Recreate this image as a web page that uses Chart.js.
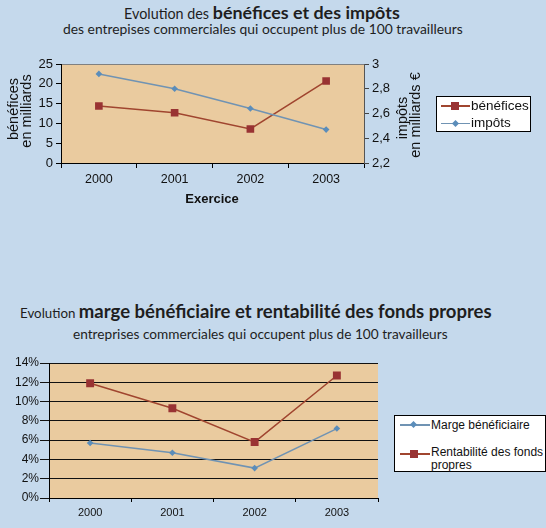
<!DOCTYPE html>
<html><head><meta charset="utf-8">
<script src="https://cdn.jsdelivr.net/npm/chart.js@4.4.0/dist/chart.umd.min.js"></script>
<style>
html,body{margin:0;padding:0;background:#c5d9ec;width:546px;height:528px;overflow:hidden;}
body{position:relative;font-family:"Liberation Sans",Arial,sans-serif;color:#111;}
.abs{position:absolute;white-space:nowrap;}
.ttl{font-family:"Liberation Sans Narrow",Lato,sans-serif;color:#1e1e1e;line-height:1.2;}
.rot{position:absolute;white-space:nowrap;transform:translate(-50%,-50%) rotate(-90deg);font-size:14.5px;line-height:14px;}
.ctr{position:absolute;white-space:nowrap;transform:translate(-50%,-50%);}
canvas{position:absolute;left:0;}
.leg{position:absolute;background:#fff;border:1px solid #000;box-sizing:border-box;}
.ln{position:absolute;height:1.5px;}
.sq{position:absolute;width:8px;height:8px;background:#993333;}
.dm{position:absolute;width:5px;height:5px;background:#5b8dba;transform:rotate(45deg);}
.lt{position:absolute;white-space:nowrap;}
</style></head>
<body>
<div id="t1" class="abs ttl" style="left:124px;top:2px;font-size:18px;"><span style="font-size:0.8em">Evolution des </span><b>bénéfices et des impôts</b></div>
<div id="s1" class="abs ttl" style="left:63px;top:21px;font-size:14px;">des entrepises commerciales qui occupent plus de 100 travailleurs</div>
<div id="t2" class="abs ttl" style="left:20px;top:300px;font-size:18px;"><span style="font-size:0.72em">Evolution </span><b>marge bénéficiaire et rentabilité des fonds propres</b></div>
<div id="s2" class="abs ttl" style="left:73px;top:326px;font-size:14px;">entreprises commerciales qui occupent plus de 100 travailleurs</div>

<canvas id="c1" width="546" height="180" style="top:40px;width:546px;height:180px;"></canvas>
<canvas id="c2" width="546" height="183" style="top:345px;width:546px;height:183px;"></canvas>

<div class="rot" style="left:13px;top:109px;">bénéfices</div>
<div class="rot" style="left:26px;top:111px;">en milliards</div>
<div class="rot" style="left:402px;top:118px;">impôts</div>
<div class="rot" style="left:415px;top:115px;">en milliards €</div>
<div class="ctr" style="left:212px;top:198px;font-weight:bold;font-size:13px;">Exercice</div>

<div class="leg" style="left:436px;top:96px;width:95px;height:36px;">
  <div class="ln" style="left:4px;top:8px;width:29px;background:#a0452f;"></div>
  <div class="sq" style="left:14px;top:5px;"></div>
  <div class="lt" style="left:34px;top:0px;font-size:13.5px;line-height:18px;">bénéfices</div>
  <div class="ln" style="left:4px;top:25.5px;width:29px;background:#7093b3;"></div>
  <div class="dm" style="left:16px;top:23.5px;"></div>
  <div class="lt" style="left:34px;top:17px;font-size:13.5px;line-height:18px;">impôts</div>
</div>

<div class="leg" style="left:394px;top:415px;width:152px;height:57px;">
  <div class="ln" style="left:5px;top:8px;width:30px;background:#7093b3;"></div>
  <div class="dm" style="left:16px;top:6px;"></div>
  <div class="lt" style="left:36px;top:1px;font-size:12px;line-height:16px;">Marge bénéficiaire</div>
  <div class="ln" style="left:5px;top:37px;width:30px;background:#a0452f;"></div>
  <div class="sq" style="left:15px;top:34px;"></div>
  <div class="lt" style="left:36px;top:30px;font-size:12px;line-height:12.5px;">Rentabilité des fonds<br>propres</div>
</div>

<script>
// ---- data ----
const years = ['2000', '2001', '2002', '2003'];
const benefices = [14.4, 12.7, 8.6, 20.7];
const impots = [2.92, 2.80, 2.64, 2.47];
const rightTickLabels = ['2,2', '2,4', '2,6', '2,8', '3'];
const marge = [5.7, 4.7, 3.1, 7.2];
const rentabilite = [11.9, 9.3, 5.8, 12.7];
const pctTickLabels = ['0%', '2%', '4%', '6%', '8%', '10%', '12%', '14%'];

// ---- styles ----
const RED = '#993333', RED_LINE = '#a0452f';
const BLUE = '#5b8dba', BLUE_LINE = '#7093b3';
const TAN = '#eacb9f';
const FONT = '"Liberation Sans", Arial, sans-serif';

// fit title widths
function fitW(id, target) {
  const el = document.getElementById(id);
  const w = el.getBoundingClientRect().width;
  const fs = parseFloat(getComputedStyle(el).fontSize);
  el.style.fontSize = (fs * target / w) + 'px';
}
fitW('t1', 276); fitW('s1', 400); fitW('t2', 472); fitW('s2', 375);

const plotBg = {
  id: 'plotBg',
  beforeDraw(chart, args, opts) {
    const {ctx, chartArea: a} = chart;
    ctx.save();
    ctx.fillStyle = opts.color;
    ctx.fillRect(a.left, a.top, a.right - a.left, a.bottom - a.top);
    if (opts.topLine) {
      ctx.strokeStyle = opts.topLine; ctx.lineWidth = 1;
      ctx.beginPath(); ctx.moveTo(a.left, Math.round(a.top) + 0.5); ctx.lineTo(a.right, Math.round(a.top) + 0.5); ctx.stroke();
    }
    ctx.restore();
  }
};

const common = {responsive: false, animation: false, events: [], maintainAspectRatio: false};

new Chart(document.getElementById('c1'), {
  type: 'line',
  plugins: [plotBg],
  data: {
    labels: years,
    datasets: [
      {label: 'impôts', data: impots, yAxisID: 'y2', borderColor: BLUE_LINE, borderWidth: 1.5,
       pointStyle: 'rectRot', pointRadius: 3.3, pointBackgroundColor: BLUE, pointBorderColor: BLUE, pointBorderWidth: 0, tension: 0},
      {label: 'bénéfices', data: benefices, yAxisID: 'y', borderColor: RED_LINE, borderWidth: 1.5,
       pointStyle: 'rect', pointRadius: 5.4, pointBackgroundColor: RED, pointBorderColor: RED, pointBorderWidth: 0, tension: 0}
    ]
  },
  options: Object.assign({}, common, {
    layout: {padding: {top: 24, left: 0, right: 142, bottom: 0}},
    plugins: {legend: {display: false}, tooltip: {enabled: false}, plotBg: {color: TAN, topLine: '#808080'}},
    scales: {
      x: {offset: true, grid: {offset: true, drawOnChartArea: false, tickLength: 5, color: '#000'},
          border: {color: '#000'}, ticks: {color: '#111', font: {family: FONT, size: 12.5}, padding: 4, maxRotation: 0},
          afterFit(s) { s.height = 57; }},
      y: {position: 'left', min: 0, max: 25, ticks: {stepSize: 5, color: '#111', font: {family: FONT, size: 13}, padding: 3},
          grid: {drawOnChartArea: false, tickLength: 5, color: '#000'}, border: {color: '#000'},
          afterFit(s) { s.width = 61; }},
      y2: {position: 'right', min: 2.2, max: 3,
           ticks: {stepSize: 0.2, color: '#111', font: {family: FONT, size: 13}, padding: 3,
                   callback: (v, i) => rightTickLabels[i]},
           grid: {drawOnChartArea: false, tickLength: 5, color: '#444'}, border: {color: '#555'},
           afterFit(s) { s.width = 40; }}
    }
  })
});

new Chart(document.getElementById('c2'), {
  type: 'line',
  plugins: [plotBg],
  data: {
    labels: years,
    datasets: [
      {label: 'Marge bénéficiaire', data: marge, borderColor: BLUE_LINE, borderWidth: 1.5,
       pointStyle: 'rectRot', pointRadius: 3.3, pointBackgroundColor: BLUE, pointBorderColor: BLUE, pointBorderWidth: 0, tension: 0},
      {label: 'Rentabilité des fonds propres', data: rentabilite, borderColor: RED_LINE, borderWidth: 1.5,
       pointStyle: 'rect', pointRadius: 5.6, pointBackgroundColor: RED, pointBorderColor: RED, pointBorderWidth: 0, tension: 0}
    ]
  },
  options: Object.assign({}, common, {
    layout: {padding: {top: 18, left: 0, right: 168, bottom: 0}},
    plugins: {legend: {display: false}, tooltip: {enabled: false}, plotBg: {color: TAN}},
    scales: {
      x: {offset: true, grid: {offset: true, drawOnChartArea: false, tickLength: 4, color: '#000'},
          border: {color: '#000'}, ticks: {color: '#111', font: {family: FONT, size: 11}, padding: 4, maxRotation: 0},
          afterFit(s) { s.height = 30; }},
      y: {min: 0, max: 14,
          ticks: {stepSize: 2, color: '#111', font: {family: FONT, size: 12}, padding: 1,
                  callback: (v, i) => pctTickLabels[i]},
          grid: {drawOnChartArea: true, tickLength: 9, color: '#111'}, border: {color: '#000'},
          afterFit(s) { s.width = 49; }}
    }
  })
});
</script>
</body></html>
